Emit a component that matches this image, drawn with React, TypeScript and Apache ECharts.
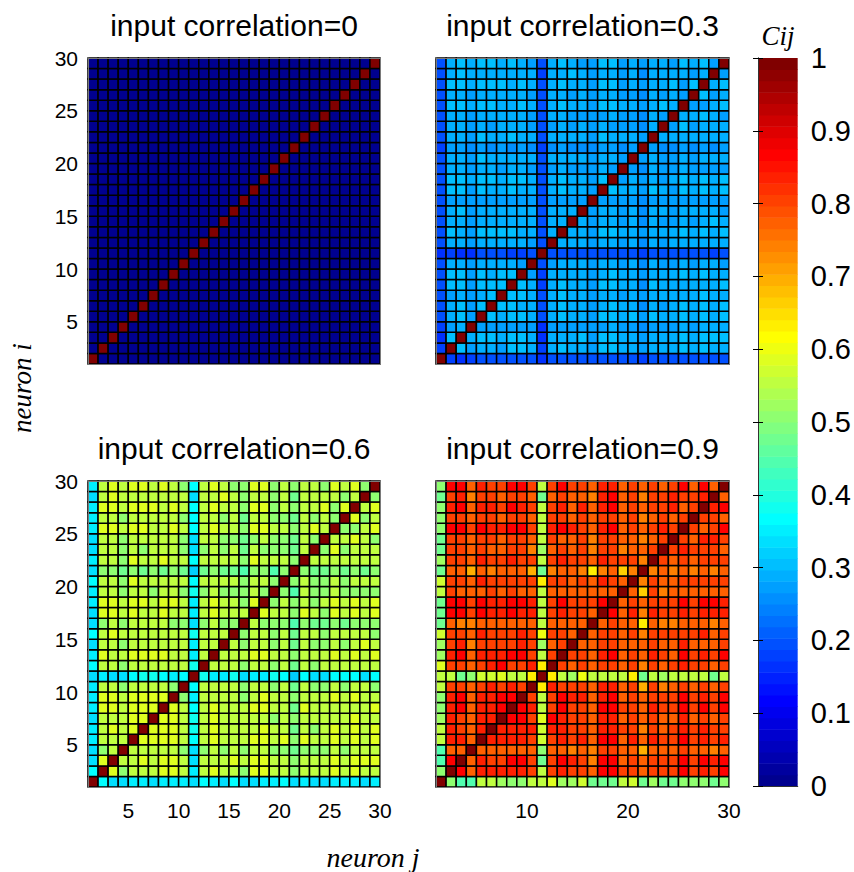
import React, { useEffect, useRef } from "react";
import * as echarts from "echarts";

// ---------- DATA ----------
const TITLES = ["input correlation=0", "input correlation=0.3", "input correlation=0.6", "input correlation=0.9"];
const AXIS_MIN = 1;
const AXIS_MAX = 30;
const LEFT_TICKS = [5, 10, 15, 20, 25, 30];
const BR_TICKS = [10, 20, 30];
const CBAR_MIN = 0;
const CBAR_MAX = 1;
const CBAR_STEP = 0.1;

// lower triangles C(i, 1..i-1) for i = 2..29 (matrix is symmetric, diagonal = 1)
const P0_LOWER: number[][] = [
  [0.01],
  [0.01, 0.01],
  [0.01, 0.01, 0.01],
  [0.01, 0.01, 0.01, 0.01],
  [0.01, 0.01, 0.01, 0.01, 0.01],
  [0.01, 0.01, 0.01, 0.01, 0.01, 0.01],
  [0.01, 0.01, 0.01, 0.01, 0.01, 0.01, 0.01],
  [0.01, 0.01, 0.01, 0.01, 0.01, 0.01, 0.01, 0.01],
  [0.01, 0.01, 0.01, 0.01, 0.01, 0.01, 0.01, 0.01, 0.01],
  [0.01, 0.01, 0.01, 0.01, 0.01, 0.01, 0.01, 0.01, 0.01, 0.01],
  [0.01, 0.01, 0.01, 0.01, 0.01, 0.01, 0.01, 0.01, 0.01, 0.01, 0.01],
  [0.01, 0.01, 0.01, 0.01, 0.01, 0.01, 0.01, 0.01, 0.01, 0.01, 0.01, 0.01],
  [0.01, 0.01, 0.01, 0.01, 0.01, 0.01, 0.01, 0.01, 0.01, 0.01, 0.01, 0.01, 0.01],
  [0.01, 0.01, 0.01, 0.01, 0.01, 0.01, 0.01, 0.01, 0.01, 0.01, 0.01, 0.01, 0.01, 0.01],
  [0.01, 0.01, 0.01, 0.01, 0.01, 0.01, 0.01, 0.01, 0.01, 0.01, 0.01, 0.01, 0.01, 0.01, 0.01],
  [0.01, 0.01, 0.01, 0.01, 0.01, 0.01, 0.01, 0.01, 0.01, 0.01, 0.01, 0.01, 0.01, 0.01, 0.01, 0.01],
  [0.01, 0.01, 0.01, 0.01, 0.01, 0.01, 0.01, 0.01, 0.01, 0.01, 0.01, 0.01, 0.01, 0.01, 0.01, 0.01, 0.01],
  [0.01, 0.01, 0.01, 0.01, 0.01, 0.01, 0.01, 0.01, 0.01, 0.01, 0.01, 0.01, 0.01, 0.01, 0.01, 0.01, 0.01, 0.01],
  [0.01, 0.01, 0.01, 0.01, 0.01, 0.01, 0.01, 0.01, 0.01, 0.01, 0.01, 0.01, 0.01, 0.01, 0.01, 0.01, 0.01, 0.01, 0.01],
  [0.01, 0.01, 0.01, 0.01, 0.01, 0.01, 0.01, 0.01, 0.01, 0.01, 0.01, 0.01, 0.01, 0.01, 0.01, 0.01, 0.01, 0.01, 0.01, 0.01],
  [0.01, 0.01, 0.01, 0.01, 0.01, 0.01, 0.01, 0.01, 0.01, 0.01, 0.01, 0.01, 0.01, 0.01, 0.01, 0.01, 0.01, 0.01, 0.01, 0.01, 0.01],
  [0.01, 0.01, 0.01, 0.01, 0.01, 0.01, 0.01, 0.01, 0.01, 0.01, 0.01, 0.01, 0.01, 0.01, 0.01, 0.01, 0.01, 0.01, 0.01, 0.01, 0.01, 0.01],
  [0.01, 0.01, 0.01, 0.01, 0.01, 0.01, 0.01, 0.01, 0.01, 0.01, 0.01, 0.01, 0.01, 0.01, 0.01, 0.01, 0.01, 0.01, 0.01, 0.01, 0.01, 0.01, 0.01],
  [0.01, 0.01, 0.01, 0.01, 0.01, 0.01, 0.01, 0.01, 0.01, 0.01, 0.01, 0.01, 0.01, 0.01, 0.01, 0.01, 0.01, 0.01, 0.01, 0.01, 0.01, 0.01, 0.01, 0.01],
  [0.01, 0.01, 0.01, 0.01, 0.01, 0.01, 0.01, 0.01, 0.01, 0.01, 0.01, 0.01, 0.01, 0.01, 0.01, 0.01, 0.01, 0.01, 0.01, 0.01, 0.01, 0.01, 0.01, 0.01, 0.01],
  [0.01, 0.01, 0.01, 0.01, 0.01, 0.01, 0.01, 0.01, 0.01, 0.01, 0.01, 0.01, 0.01, 0.01, 0.01, 0.01, 0.01, 0.01, 0.01, 0.01, 0.01, 0.01, 0.01, 0.01, 0.01, 0.01],
  [0.01, 0.01, 0.01, 0.01, 0.01, 0.01, 0.01, 0.01, 0.01, 0.01, 0.01, 0.01, 0.01, 0.01, 0.01, 0.01, 0.01, 0.01, 0.01, 0.01, 0.01, 0.01, 0.01, 0.01, 0.01, 0.01, 0.01],
  [0.01, 0.01, 0.01, 0.01, 0.01, 0.01, 0.01, 0.01, 0.01, 0.01, 0.01, 0.01, 0.01, 0.01, 0.01, 0.01, 0.01, 0.01, 0.01, 0.01, 0.01, 0.01, 0.01, 0.01, 0.01, 0.01, 0.01, 0.01],
];

const P3_LOWER: number[][] = [
  [0.18],
  [0.17, 0.30],
  [0.18, 0.28, 0.29],
  [0.19, 0.29, 0.30, 0.28],
  [0.19, 0.29, 0.30, 0.28, 0.30],
  [0.19, 0.28, 0.29, 0.28, 0.29, 0.30],
  [0.19, 0.30, 0.30, 0.28, 0.30, 0.30, 0.30],
  [0.19, 0.30, 0.30, 0.28, 0.30, 0.29, 0.30, 0.30],
  [0.19, 0.29, 0.29, 0.27, 0.29, 0.29, 0.29, 0.29, 0.28],
  [0.17, 0.18, 0.17, 0.17, 0.19, 0.19, 0.19, 0.18, 0.18, 0.19],
  [0.19, 0.29, 0.29, 0.27, 0.29, 0.29, 0.29, 0.29, 0.29, 0.28, 0.19],
  [0.19, 0.30, 0.29, 0.28, 0.30, 0.30, 0.30, 0.30, 0.29, 0.29, 0.19, 0.29],
  [0.19, 0.29, 0.29, 0.27, 0.29, 0.29, 0.29, 0.29, 0.29, 0.29, 0.19, 0.29, 0.29],
  [0.19, 0.29, 0.30, 0.28, 0.29, 0.29, 0.29, 0.29, 0.29, 0.29, 0.20, 0.29, 0.29, 0.29],
  [0.19, 0.27, 0.28, 0.27, 0.28, 0.28, 0.28, 0.28, 0.27, 0.27, 0.19, 0.27, 0.28, 0.27, 0.27],
  [0.19, 0.30, 0.30, 0.28, 0.30, 0.29, 0.29, 0.30, 0.29, 0.29, 0.19, 0.29, 0.30, 0.29, 0.29, 0.28],
  [0.19, 0.30, 0.30, 0.29, 0.30, 0.30, 0.29, 0.30, 0.30, 0.29, 0.19, 0.29, 0.30, 0.29, 0.29, 0.28, 0.30],
  [0.19, 0.29, 0.29, 0.27, 0.29, 0.29, 0.28, 0.29, 0.29, 0.28, 0.20, 0.28, 0.29, 0.28, 0.28, 0.27, 0.29, 0.28],
  [0.19, 0.29, 0.29, 0.28, 0.30, 0.29, 0.29, 0.29, 0.29, 0.29, 0.19, 0.29, 0.29, 0.29, 0.29, 0.28, 0.29, 0.29, 0.28],
  [0.18, 0.27, 0.27, 0.26, 0.27, 0.26, 0.27, 0.26, 0.27, 0.26, 0.18, 0.26, 0.27, 0.26, 0.26, 0.25, 0.27, 0.27, 0.25, 0.27],
  [0.19, 0.29, 0.29, 0.28, 0.30, 0.29, 0.29, 0.30, 0.29, 0.29, 0.19, 0.29, 0.29, 0.29, 0.29, 0.28, 0.30, 0.29, 0.29, 0.29, 0.27],
  [0.19, 0.29, 0.29, 0.27, 0.29, 0.28, 0.29, 0.29, 0.29, 0.28, 0.19, 0.28, 0.29, 0.28, 0.29, 0.27, 0.29, 0.28, 0.28, 0.28, 0.26, 0.29],
  [0.19, 0.29, 0.29, 0.28, 0.29, 0.29, 0.29, 0.29, 0.29, 0.28, 0.19, 0.29, 0.29, 0.28, 0.28, 0.27, 0.28, 0.29, 0.28, 0.28, 0.26, 0.29, 0.28],
  [0.19, 0.30, 0.30, 0.29, 0.30, 0.30, 0.29, 0.29, 0.30, 0.29, 0.19, 0.29, 0.30, 0.29, 0.29, 0.28, 0.30, 0.30, 0.29, 0.29, 0.27, 0.29, 0.30, 0.29],
  [0.19, 0.29, 0.29, 0.28, 0.29, 0.29, 0.29, 0.29, 0.29, 0.28, 0.19, 0.29, 0.29, 0.28, 0.29, 0.27, 0.29, 0.29, 0.28, 0.28, 0.26, 0.29, 0.28, 0.29, 0.28],
  [0.19, 0.30, 0.30, 0.29, 0.30, 0.30, 0.30, 0.29, 0.30, 0.29, 0.19, 0.29, 0.30, 0.29, 0.29, 0.28, 0.30, 0.30, 0.28, 0.29, 0.27, 0.29, 0.29, 0.30, 0.28, 0.30],
  [0.19, 0.29, 0.30, 0.29, 0.29, 0.29, 0.29, 0.29, 0.29, 0.29, 0.18, 0.29, 0.29, 0.30, 0.29, 0.28, 0.29, 0.29, 0.28, 0.29, 0.26, 0.29, 0.29, 0.29, 0.29, 0.28, 0.29],
  [0.19, 0.29, 0.30, 0.29, 0.30, 0.30, 0.29, 0.30, 0.29, 0.28, 0.19, 0.29, 0.30, 0.29, 0.28, 0.28, 0.30, 0.30, 0.28, 0.29, 0.27, 0.29, 0.29, 0.28, 0.30, 0.29, 0.30, 0.28],
];

const P6_LOWER: number[][] = [
  [0.36],
  [0.34, 0.58],
  [0.33, 0.51, 0.55],
  [0.35, 0.55, 0.55, 0.55],
  [0.35, 0.55, 0.58, 0.55, 0.58],
  [0.34, 0.55, 0.55, 0.55, 0.58, 0.58],
  [0.35, 0.58, 0.58, 0.55, 0.58, 0.58, 0.58],
  [0.35, 0.58, 0.58, 0.55, 0.58, 0.58, 0.58, 0.58],
  [0.35, 0.55, 0.55, 0.51, 0.55, 0.55, 0.55, 0.55, 0.51],
  [0.33, 0.35, 0.34, 0.33, 0.37, 0.38, 0.38, 0.37, 0.35, 0.36],
  [0.37, 0.55, 0.55, 0.51, 0.55, 0.55, 0.55, 0.55, 0.55, 0.55, 0.39],
  [0.35, 0.58, 0.55, 0.55, 0.58, 0.58, 0.58, 0.58, 0.55, 0.55, 0.35, 0.55],
  [0.34, 0.55, 0.55, 0.51, 0.55, 0.55, 0.55, 0.55, 0.55, 0.55, 0.35, 0.55, 0.55],
  [0.36, 0.55, 0.58, 0.55, 0.55, 0.55, 0.55, 0.55, 0.55, 0.55, 0.38, 0.55, 0.55, 0.55],
  [0.34, 0.51, 0.55, 0.51, 0.55, 0.55, 0.55, 0.55, 0.51, 0.51, 0.34, 0.51, 0.55, 0.51, 0.51],
  [0.34, 0.58, 0.58, 0.55, 0.58, 0.55, 0.55, 0.58, 0.55, 0.55, 0.35, 0.55, 0.58, 0.55, 0.55, 0.55],
  [0.35, 0.58, 0.58, 0.55, 0.58, 0.58, 0.55, 0.58, 0.58, 0.55, 0.35, 0.55, 0.58, 0.55, 0.55, 0.51, 0.58],
  [0.35, 0.55, 0.55, 0.51, 0.55, 0.55, 0.51, 0.55, 0.55, 0.51, 0.38, 0.51, 0.55, 0.51, 0.51, 0.51, 0.55, 0.51],
  [0.36, 0.55, 0.55, 0.51, 0.58, 0.55, 0.55, 0.55, 0.55, 0.55, 0.37, 0.55, 0.55, 0.55, 0.55, 0.51, 0.55, 0.55, 0.51],
  [0.33, 0.51, 0.51, 0.47, 0.51, 0.47, 0.51, 0.47, 0.51, 0.47, 0.32, 0.47, 0.51, 0.47, 0.47, 0.44, 0.51, 0.51, 0.44, 0.51],
  [0.35, 0.55, 0.55, 0.51, 0.58, 0.55, 0.55, 0.58, 0.55, 0.55, 0.36, 0.55, 0.55, 0.55, 0.55, 0.51, 0.58, 0.55, 0.55, 0.55, 0.51],
  [0.34, 0.55, 0.55, 0.51, 0.55, 0.51, 0.55, 0.55, 0.55, 0.51, 0.34, 0.51, 0.55, 0.51, 0.55, 0.47, 0.55, 0.51, 0.51, 0.51, 0.47, 0.55],
  [0.34, 0.55, 0.55, 0.51, 0.55, 0.55, 0.55, 0.55, 0.55, 0.51, 0.34, 0.55, 0.55, 0.51, 0.51, 0.47, 0.51, 0.55, 0.51, 0.51, 0.47, 0.55, 0.51],
  [0.35, 0.58, 0.58, 0.55, 0.58, 0.58, 0.55, 0.55, 0.58, 0.55, 0.36, 0.55, 0.58, 0.55, 0.55, 0.51, 0.58, 0.58, 0.55, 0.55, 0.51, 0.55, 0.58, 0.55],
  [0.35, 0.55, 0.55, 0.51, 0.55, 0.55, 0.55, 0.55, 0.55, 0.51, 0.36, 0.55, 0.55, 0.51, 0.55, 0.47, 0.55, 0.55, 0.51, 0.51, 0.47, 0.55, 0.51, 0.55, 0.51],
  [0.35, 0.58, 0.58, 0.55, 0.58, 0.58, 0.58, 0.55, 0.58, 0.55, 0.36, 0.55, 0.58, 0.55, 0.55, 0.51, 0.58, 0.58, 0.51, 0.55, 0.51, 0.55, 0.55, 0.58, 0.51, 0.58],
  [0.34, 0.55, 0.58, 0.55, 0.55, 0.55, 0.55, 0.55, 0.55, 0.55, 0.33, 0.55, 0.55, 0.58, 0.55, 0.51, 0.55, 0.55, 0.51, 0.55, 0.47, 0.55, 0.55, 0.55, 0.55, 0.51, 0.55],
  [0.35, 0.55, 0.58, 0.55, 0.58, 0.58, 0.55, 0.58, 0.55, 0.51, 0.36, 0.55, 0.58, 0.55, 0.51, 0.51, 0.58, 0.58, 0.51, 0.55, 0.51, 0.55, 0.55, 0.51, 0.58, 0.55, 0.58, 0.51],
];

const P9_LOWER: number[][] = [
  [0.50],
  [0.44, 0.87],
  [0.45, 0.78, 0.78],
  [0.55, 0.84, 0.84, 0.78],
  [0.55, 0.84, 0.81, 0.78, 0.84],
  [0.52, 0.84, 0.81, 0.78, 0.84, 0.84],
  [0.51, 0.84, 0.87, 0.78, 0.84, 0.84, 0.87],
  [0.50, 0.84, 0.87, 0.78, 0.84, 0.84, 0.87, 0.87],
  [0.56, 0.81, 0.81, 0.78, 0.81, 0.84, 0.81, 0.84, 0.81],
  [0.55, 0.56, 0.47, 0.50, 0.57, 0.57, 0.58, 0.55, 0.55, 0.64],
  [0.58, 0.81, 0.81, 0.78, 0.81, 0.84, 0.86, 0.81, 0.81, 0.84, 0.64],
  [0.52, 0.84, 0.87, 0.78, 0.84, 0.84, 0.84, 0.87, 0.87, 0.81, 0.55, 0.81],
  [0.52, 0.81, 0.84, 0.74, 0.81, 0.81, 0.81, 0.81, 0.84, 0.81, 0.52, 0.78, 0.81],
  [0.57, 0.81, 0.81, 0.78, 0.84, 0.81, 0.81, 0.81, 0.84, 0.81, 0.60, 0.81, 0.81, 0.78],
  [0.47, 0.78, 0.74, 0.74, 0.78, 0.78, 0.78, 0.78, 0.78, 0.78, 0.55, 0.78, 0.78, 0.78, 0.78],
  [0.47, 0.87, 0.87, 0.81, 0.87, 0.84, 0.84, 0.87, 0.84, 0.84, 0.56, 0.81, 0.84, 0.81, 0.81, 0.78],
  [0.47, 0.87, 0.87, 0.81, 0.87, 0.84, 0.84, 0.87, 0.87, 0.84, 0.55, 0.81, 0.87, 0.81, 0.81, 0.81, 0.87],
  [0.55, 0.81, 0.78, 0.78, 0.78, 0.81, 0.78, 0.81, 0.78, 0.78, 0.56, 0.78, 0.78, 0.78, 0.78, 0.78, 0.78, 0.78],
  [0.57, 0.81, 0.81, 0.78, 0.84, 0.81, 0.81, 0.81, 0.81, 0.81, 0.63, 0.81, 0.81, 0.78, 0.81, 0.78, 0.84, 0.81, 0.78],
  [0.47, 0.78, 0.78, 0.69, 0.78, 0.74, 0.78, 0.78, 0.78, 0.69, 0.47, 0.74, 0.78, 0.78, 0.74, 0.64, 0.74, 0.78, 0.66, 0.74],
  [0.52, 0.81, 0.81, 0.78, 0.84, 0.81, 0.81, 0.84, 0.81, 0.81, 0.56, 0.81, 0.84, 0.81, 0.81, 0.78, 0.84, 0.81, 0.81, 0.81, 0.74],
  [0.47, 0.81, 0.81, 0.78, 0.81, 0.78, 0.78, 0.81, 0.81, 0.74, 0.52, 0.78, 0.81, 0.78, 0.81, 0.74, 0.81, 0.81, 0.74, 0.78, 0.78, 0.81],
  [0.48, 0.81, 0.81, 0.78, 0.81, 0.81, 0.78, 0.81, 0.81, 0.78, 0.55, 0.81, 0.78, 0.78, 0.81, 0.74, 0.81, 0.81, 0.78, 0.78, 0.74, 0.78, 0.81],
  [0.50, 0.87, 0.87, 0.81, 0.87, 0.84, 0.84, 0.87, 0.87, 0.81, 0.55, 0.84, 0.87, 0.84, 0.81, 0.78, 0.84, 0.87, 0.78, 0.81, 0.78, 0.81, 0.84, 0.81],
  [0.50, 0.81, 0.81, 0.78, 0.81, 0.81, 0.78, 0.81, 0.81, 0.78, 0.55, 0.81, 0.81, 0.78, 0.81, 0.78, 0.81, 0.81, 0.78, 0.81, 0.74, 0.78, 0.81, 0.78, 0.81],
  [0.50, 0.84, 0.87, 0.78, 0.84, 0.84, 0.81, 0.87, 0.84, 0.81, 0.55, 0.81, 0.84, 0.78, 0.84, 0.78, 0.84, 0.87, 0.78, 0.81, 0.78, 0.81, 0.81, 0.84, 0.78, 0.81],
  [0.47, 0.81, 0.84, 0.74, 0.81, 0.81, 0.78, 0.81, 0.81, 0.78, 0.48, 0.78, 0.81, 0.78, 0.78, 0.74, 0.84, 0.87, 0.78, 0.81, 0.74, 0.81, 0.81, 0.84, 0.81, 0.81, 0.84],
  [0.50, 0.87, 0.87, 0.78, 0.84, 0.81, 0.81, 0.87, 0.87, 0.81, 0.55, 0.81, 0.87, 0.81, 0.81, 0.78, 0.84, 0.84, 0.78, 0.81, 0.78, 0.81, 0.78, 0.81, 0.87, 0.78, 0.87, 0.78],
];

const PANELS = [P0_LOWER, P3_LOWER, P6_LOWER, P9_LOWER];

// ---------- COLORMAP (MATLAB jet, 64 levels) ----------
function jetMap(n: number): string[] {
  const m = Math.ceil(n / 4);
  const u: number[] = [];
  for (let k = 1; k <= m; k++) u.push(k / m);
  for (let k = 1; k < m; k++) u.push(1);
  for (let k = m; k >= 1; k--) u.push(k / m);
  const g0 = Math.ceil(m / 2) - (n % 4 === 1 ? 1 : 0);
  const rgb = Array.from({ length: n }, () => [0, 0, 0]);
  for (let k = 0; k < u.length; k++) {
    const g = g0 + k + 1;
    const r = g + m;
    const b = g - m;
    if (r >= 1 && r <= n) rgb[r - 1][0] = u[k];
    if (g >= 1 && g <= n) rgb[g - 1][1] = u[k];
    if (b >= 1 && b <= n) rgb[b - 1][2] = u[k];
  }
  return rgb.map((c) => `rgb(${Math.round(c[0] * 255)},${Math.round(c[1] * 255)},${Math.round(c[2] * 255)})`);
}
const JET = jetMap(64);
const jetColor = (v: number) => JET[Math.min(63, Math.max(0, Math.floor(((v - CBAR_MIN) / (CBAR_MAX - CBAR_MIN)) * 64)))];

function buildCells(lower: number[][]): number[][] {
  const n = lower.length + 1;
  const cells: number[][] = [];
  for (let i = 1; i <= n; i++) {
    for (let j = 1; j <= n; j++) {
      let v: number;
      if (i === j) v = 1;
      else if (i > j) v = lower[i - 2][j - 1];
      else v = lower[j - 2][i - 1];
      cells.push([j, i, v]);
    }
  }
  return cells;
}

const SANS = "Liberation Sans, Arial, sans-serif";
const SERIF = "Liberation Serif, Times New Roman, serif";

export default function App() {
  const ref = useRef<HTMLDivElement>(null);
  useEffect(() => {
    document.body.style.margin = "0";
    if (!ref.current) return;
    const chart = echarts.init(ref.current, null, { renderer: "svg" });

    const grids = [
      { left: 88, top: 58, width: 292, height: 306 },
      { left: 436, top: 58, width: 293, height: 306 },
      { left: 88, top: 481, width: 292, height: 306 },
      { left: 436, top: 481, width: 293, height: 306 },
      { left: 758, top: 58, width: 44, height: 728 },
    ];

    const frame = { show: true, lineStyle: { color: "#7a7a7a", width: 1 } };
    const xAxes: any[] = [];
    const yAxes: any[] = [];
    const series: any[] = [];

    for (let p = 0; p < 4; p++) {
      const showX = p >= 2;
      const showY = p % 2 === 0;
      const xTicks = p === 3 ? BR_TICKS : LEFT_TICKS;
      xAxes.push({
        type: "value", gridIndex: p, min: AXIS_MIN, max: AXIS_MAX, position: "bottom", z: 5,
        axisLine: frame, axisTick: { show: false }, splitLine: { show: false },
        axisLabel: { show: showX, customValues: xTicks, color: "#000", fontSize: 21, fontFamily: SANS, margin: 13 },
      });
      xAxes.push({
        type: "value", gridIndex: p, min: AXIS_MIN, max: AXIS_MAX, position: "top", z: 5,
        axisLine: frame, axisTick: { show: false }, splitLine: { show: false }, axisLabel: { show: false },
      });
      yAxes.push({
        type: "value", gridIndex: p, min: AXIS_MIN, max: AXIS_MAX, position: "left", z: 5,
        axisLine: frame, axisTick: { show: false }, splitLine: { show: false },
        axisLabel: { show: showY, customValues: LEFT_TICKS, color: "#000", fontSize: 21, fontFamily: SANS, margin: 10, padding: [8, 0, 0, 0] },
      });
      yAxes.push({
        type: "value", gridIndex: p, min: AXIS_MIN, max: AXIS_MAX, position: "right", z: 5,
        axisLine: frame, axisTick: { show: false }, splitLine: { show: false }, axisLabel: { show: false },
      });
      series.push({
        type: "custom",
        xAxisIndex: p * 2,
        yAxisIndex: p * 2,
        data: buildCells(PANELS[p]),
        renderItem: (_params: any, api: any) => {
          const j = api.value(0);
          const i = api.value(1);
          const v = api.value(2);
          const a = api.coord([j, i + 1]);
          const b = api.coord([j + 1, i]);
          return {
            type: "rect",
            shape: { x: a[0], y: a[1], width: b[0] - a[0], height: b[1] - a[1] },
            style: { fill: jetColor(v), stroke: "#000", lineWidth: 1.5 },
          };
        },
      });
    }

    // colorbar
    const cbIdxX = xAxes.length;
    xAxes.push({ type: "value", gridIndex: 4, min: 0, max: 1, show: false });
    xAxes.push({
      type: "value", gridIndex: 4, min: 0, max: 1, position: "top", z: 5,
      axisLine: { show: true, lineStyle: { color: "#333", width: 1 } }, axisTick: { show: false }, axisLabel: { show: false }, splitLine: { show: false },
    });
    xAxes.push({
      type: "value", gridIndex: 4, min: 0, max: 1, position: "bottom", z: 5,
      axisLine: { show: true, lineStyle: { color: "#333", width: 1 } }, axisTick: { show: false }, axisLabel: { show: false }, splitLine: { show: false },
    });
    const cbIdxY = yAxes.length;
    yAxes.push({
      type: "value", gridIndex: 4, min: CBAR_MIN, max: CBAR_MAX, interval: CBAR_STEP, position: "right", z: 5,
      axisLine: { show: true, lineStyle: { color: "#333", width: 1 } },
      axisTick: { show: true, inside: true, length: 5, lineStyle: { color: "#000", width: 1 } },
      splitLine: { show: false },
      axisLabel: { color: "#000", fontSize: 29, fontFamily: SANS, margin: 13, padding: [8, 0, 0, 0] },
    });
    yAxes.push({
      type: "value", gridIndex: 4, min: CBAR_MIN, max: CBAR_MAX, interval: CBAR_STEP, position: "left", z: 5,
      axisLine: { show: true, lineStyle: { color: "#333", width: 1 } },
      axisTick: { show: true, inside: true, length: 5, lineStyle: { color: "#000", width: 1 } },
      splitLine: { show: false }, axisLabel: { show: false },
    });
    series.push({
      type: "custom",
      xAxisIndex: cbIdxX,
      yAxisIndex: cbIdxY,
      data: JET.map((_c, k) => [k]),
      renderItem: (_params: any, api: any) => {
        const k = api.value(0);
        const a = api.coord([0, (k + 1) / JET.length]);
        const b = api.coord([1, k / JET.length]);
        return {
          type: "rect",
          shape: { x: a[0], y: a[1], width: b[0] - a[0], height: b[1] - a[1] + 0.5 },
          style: { fill: JET[k] },
        };
      },
    });

    const graphic: any[] = [];
    const titleY = [25, 25, 448, 448];
    for (let p = 0; p < 4; p++) {
      const g = grids[p];
      graphic.push({
        type: "text", x: g.left + g.width / 2, y: titleY[p],
        style: { text: TITLES[p], fill: "#000", font: `30px ${SANS}`, textAlign: "center", textVerticalAlign: "middle" },
      });
    }
    graphic.push({
      type: "text", x: 778, y: 36,
      style: { text: "Cij", fill: "#000", font: `italic 27px ${SERIF}`, textAlign: "center", textVerticalAlign: "middle" },
    });
    graphic.push({
      type: "text", x: 373, y: 857,
      style: { text: "neuron j", fill: "#000", font: `italic 28px ${SERIF}`, textAlign: "center", textVerticalAlign: "middle" },
    });
    graphic.push({
      type: "text", x: 22, y: 388, rotation: Math.PI / 2,
      style: { text: "neuron i", fill: "#000", font: `italic 27px ${SERIF}`, textAlign: "center", textVerticalAlign: "middle" },
    });

    chart.setOption({
      animation: false,
      backgroundColor: "#fff",
      grid: grids.map((g) => ({ ...g, containLabel: false })),
      xAxis: xAxes,
      yAxis: yAxes,
      series,
      graphic,
    });
    return () => chart.dispose();
  }, []);
  return <div ref={ref} style={{ width: 854, height: 872 }} />;
}
